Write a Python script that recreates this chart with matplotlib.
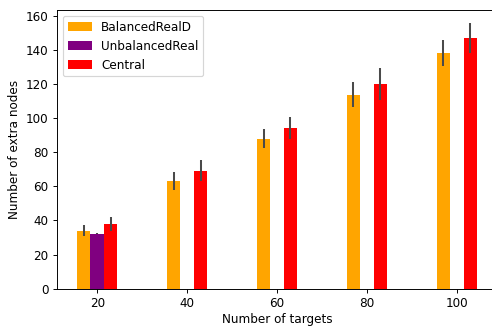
import numpy as np
import matplotlib
matplotlib.use("Agg")
import matplotlib.pyplot as plt

# Number of targets on the x axis
targets = [20, 40, 60, 80, 100]

# Mean number of extra nodes and error (half-height of the error bar)
balanced_vals = [33.9, 63.2, 87.9, 113.7, 138.3]
balanced_err = [3.2, 5.2, 5.5, 7.3, 7.5]

unbalanced_targets = [20]
unbalanced_vals = [32.3]
unbalanced_err = [0.5]

central_vals = [38.0, 69.1, 94.3, 120.1, 147.1]
central_err = [3.9, 6.1, 6.4, 9.3, 8.7]

labels = ["BalancedRealD", "UnbalancedReal", "Central"]
colors = ["orange", "purple", "red"]

DPI = 86
fig = plt.figure(figsize=(492 / DPI, 329 / DPI), dpi=DPI)
ax = fig.add_axes([57 / 492, 40.3 / 329, 440 / 492, 278.7 / 329])

width = 3.0
err_kw = dict(ecolor="#4a4a4a", elinewidth=1.7, capsize=0)

x = np.array(targets, dtype=float)
ax.bar(x - width, balanced_vals, width, yerr=balanced_err, color=colors[0],
       label=labels[0], error_kw=err_kw)
ax.bar(np.array(unbalanced_targets, dtype=float), unbalanced_vals, width,
       yerr=unbalanced_err, color=colors[1], label=labels[1], error_kw=err_kw)
ax.bar(x + width, central_vals, width, yerr=central_err, color=colors[2],
       label=labels[2], error_kw=err_kw)

ax.set_xticks(targets)
ax.set_xlim(11.05, 108.95)
ax.set_ylim(0, 163.4)
ax.set_yticks(np.arange(0, 161, 20))

ax.set_xlabel("Number of targets", labelpad=2.5)
ax.set_ylabel("Number of extra nodes")
ax.legend(loc="upper left")

fig.savefig("out.png", dpi=DPI)
